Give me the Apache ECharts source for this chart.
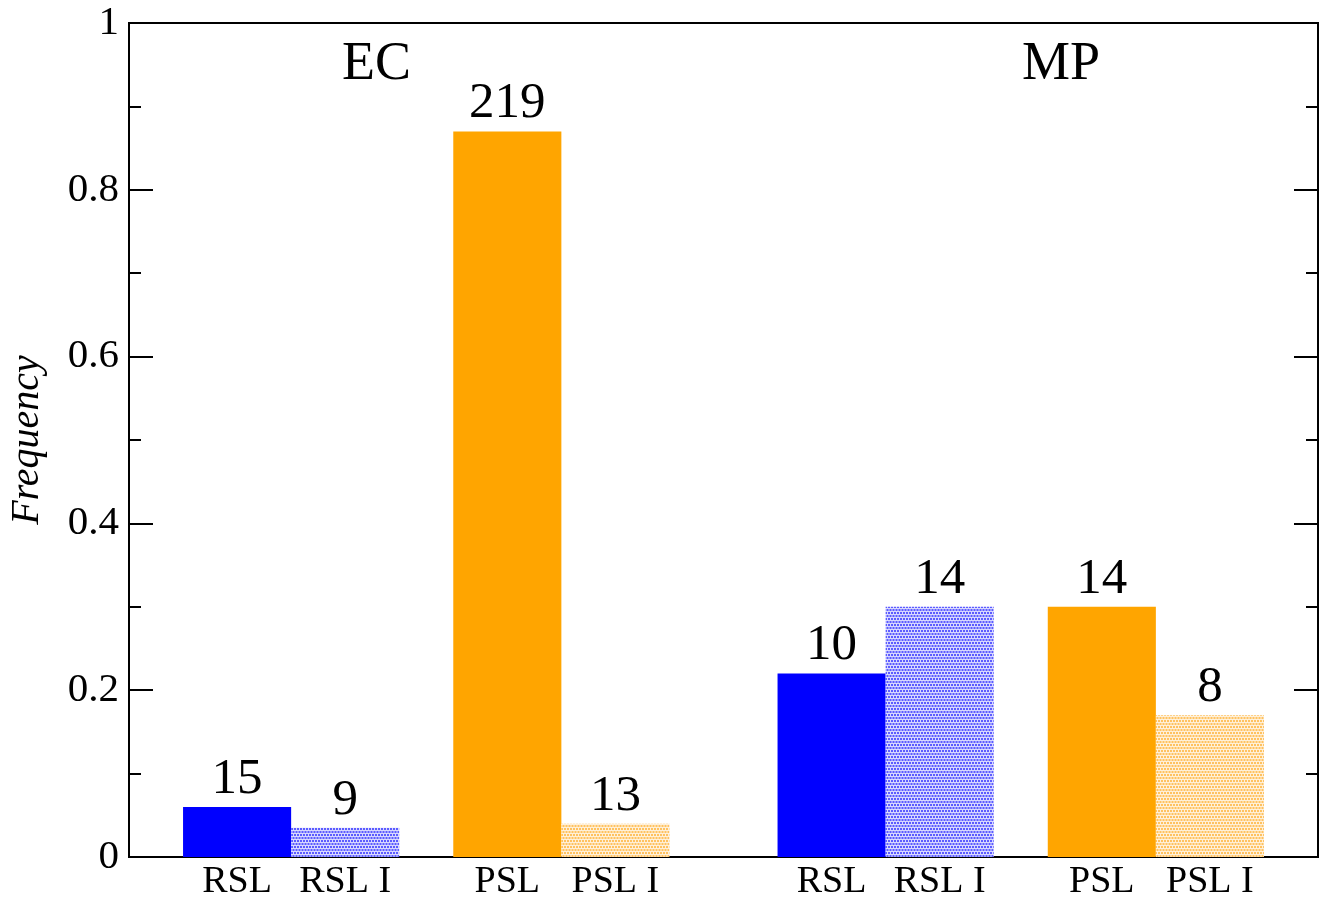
<!DOCTYPE html>
<html>
<head>
<meta charset="utf-8">
<script src="https://cdn.jsdelivr.net/npm/echarts@6/dist/echarts.min.js"></script>
<style>
html,body{margin:0;padding:0;background:#fff;}
#chart{width:1320px;height:898px;}
</style>
</head>
<body>
<div id="chart"></div>
<script>
// ---- data ----
const categories = ['RSL', 'RSL I', 'PSL', 'PSL I', 'RSL', 'RSL I', 'PSL', 'PSL I'];
const positions  = [1, 2, 3.5, 4.5, 6.5, 7.5, 9, 10];
const frequency  = [0.06, 0.035, 0.87, 0.04, 0.22, 0.30, 0.30, 0.17];
const counts     = [15, 9, 219, 13, 10, 14, 14, 8];
const kinds      = ['RSL', 'RSLI', 'PSL', 'PSLI', 'RSL', 'RSLI', 'PSL', 'PSLI'];
const groupNames = ['EC', 'MP'];

const FONT = "'Liberation Serif', 'Times New Roman', serif";

function makePattern(bg, dot) {
  const c = document.createElement('canvas');
  c.width = 6; c.height = 6;
  const g = c.getContext('2d');
  g.fillStyle = bg; g.fillRect(0, 0, 6, 6);
  g.fillStyle = dot;
  g.fillRect(0, 0, 2, 2);
  g.fillRect(3, 0, 2, 2);
  g.fillRect(1.5, 3, 2, 2);
  g.fillRect(4.5, 3, 1.5, 2);
  g.fillRect(0, 3, 0.5, 2);
  return c;
}
const fills = {
  RSL: '#0000ff',
  PSL: '#ffa500',
  RSLI: { image: makePattern('#d8d8ff', '#5c5cff'), repeat: 'repeat' },
  PSLI: { image: makePattern('#fff0d8', '#ffc260'), repeat: 'repeat' }
};

const seriesData = positions.map((p, i) => [p, frequency[i], counts[i], i]);

const chart = echarts.init(document.getElementById('chart'), null, { renderer: 'canvas' });

const axisLineStyle = { color: '#000', width: 2 };

chart.setOption({
  animation: false,
  backgroundColor: '#fff',
  grid: { left: 129, right: 2, top: 23, bottom: 41, containLabel: false, outerBoundsMode: 'none',
          show: true, borderColor: '#000', borderWidth: 2, backgroundColor: 'transparent' },
  xAxis: {
    type: 'value', min: 0, max: 11,
    axisLine: { show: true, lineStyle: axisLineStyle },
    axisTick: { show: false },
    splitLine: { show: false },
    axisLabel: {
      customValues: positions,
      formatter: v => categories[positions.indexOf(v)],
      fontFamily: FONT, fontSize: 38, color: '#000', margin: 6
    }
  },
  yAxis: [{
    type: 'value', min: 0, max: 1, interval: 0.2, position: 'left',
    name: 'Frequency', nameLocation: 'middle', nameGap: 82, nameRotate: 90,
    nameTextStyle: { fontFamily: FONT, fontSize: 40, fontStyle: 'italic', color: '#000' },
    axisLine: { show: true, lineStyle: axisLineStyle },
    axisTick: { show: true, inside: true, length: 24, lineStyle: axisLineStyle },
    minorTick: { show: true, splitNumber: 2, length: 12, lineStyle: axisLineStyle },
    splitLine: { show: false },
    axisLabel: { fontFamily: FONT, fontSize: 41, color: '#000', margin: 10 }
  }, {
    type: 'value', min: 0, max: 1, interval: 0.2, position: 'right',
    axisLine: { show: true, lineStyle: axisLineStyle },
    axisTick: { show: true, inside: true, length: 24, lineStyle: axisLineStyle },
    minorTick: { show: true, splitNumber: 2, length: 12, lineStyle: axisLineStyle },
    splitLine: { show: false },
    axisLabel: { show: false }
  }],
  graphic: [
    { type: 'text', left: 342, top: 38, style: { text: groupNames[0], font: "54px " + FONT, fill: '#000' } },
    { type: 'text', left: 1022, top: 38, style: { text: groupNames[1], font: "54px " + FONT, fill: '#000' } }
  ],
  series: [{
    type: 'custom',
    data: seriesData,
    encode: { x: 0, y: 1 },
    renderItem: function (params, api) {
      const x = api.value(0), y = api.value(1), n = api.value(2), idx = api.value(3);
      const p0 = api.coord([x - 0.5, y]);
      const p1 = api.coord([x + 0.5, 0]);
      return {
        type: 'group',
        children: [{
          type: 'rect',
          shape: { x: p0[0], y: p0[1], width: p1[0] - p0[0], height: p1[1] - p0[1] },
          style: { fill: fills[kinds[idx]] }
        }, {
          type: 'text',
          style: {
            x: (p0[0] + p1[0]) / 2, y: p0[1] - 2,
            text: String(n), align: 'center', verticalAlign: 'bottom',
            font: "51px " + FONT, fill: '#000'
          }
        }]
      };
    }
  }]
});
</script>
</body>
</html>
